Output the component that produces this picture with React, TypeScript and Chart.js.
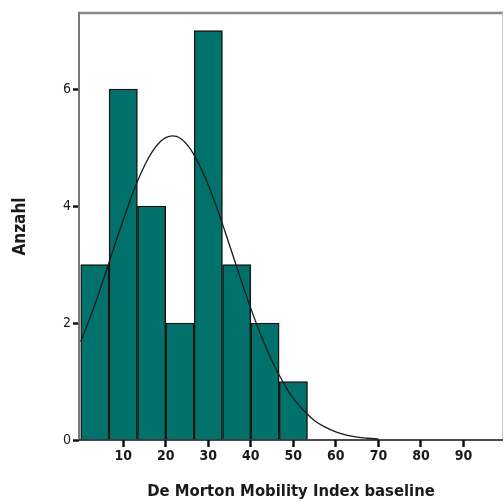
import React, { useEffect, useRef } from "react";
import { Chart, registerables } from "chart.js";

Chart.register(...registerables);

// Histogram bins (width 20/3) – centers and counts
const binCenters = [3.33, 10, 16.67, 23.33, 30, 36.67, 43.33, 50];
const binCounts = [3, 6, 4, 2, 7, 3, 2, 1];

// Normal curve
const curveX = [0, 2.5, 5, 7.5, 10, 12.5, 15, 17.5, 20, 22.5, 25, 27.5, 30, 32.5, 35, 37.5, 40, 42.5, 45, 47.5, 50, 52.5, 55, 57.5, 60, 62.5, 65, 67.5, 70];
const curveY = [1.68, 2.15, 2.67, 3.22, 3.76, 4.27, 4.69, 5.0, 5.17, 5.19, 5.05, 4.76, 4.36, 3.87, 3.33, 2.78, 2.25, 1.77, 1.35, 1.0, 0.71, 0.5, 0.33, 0.22, 0.14, 0.085, 0.05, 0.03, 0.017];

const xTickLabels = [10, 20, 30, 40, 50, 60, 70, 80, 90];
const yTickLabels = [0, 2, 4, 6];

const xTitle = "De Morton Mobility Index baseline";
const yTitle = "Anzahl";

const FONT = "'Liberation Sans Narrow', 'DejaVu Sans Condensed', 'Noto Sans', sans-serif";

export default function App() {
  const ref = useRef<HTMLCanvasElement | null>(null);

  useEffect(() => {
    document.body.style.margin = "0";
    const canvas = ref.current;
    if (!canvas) return;

    const framePlugin = {
      id: "frame",
      afterDraw(chart: any) {
        const { ctx, chartArea } = chart;
        const { left, right, top, bottom } = chartArea;
        ctx.save();
        ctx.strokeStyle = "#8a8a8a";
        ctx.lineWidth = 2.5;
        ctx.beginPath();
        ctx.moveTo(left - 1, top);
        ctx.lineTo(right, top);
        ctx.stroke();
        ctx.strokeStyle = "#c8c8c8";
        ctx.lineWidth = 1;
        ctx.beginPath();
        ctx.moveTo(right - 0.5, top);
        ctx.lineTo(right - 0.5, bottom);
        ctx.stroke();
        ctx.strokeStyle = "#777777";
        ctx.lineWidth = 2;
        ctx.beginPath();
        ctx.moveTo(left, top - 1);
        ctx.lineTo(left, bottom);
        ctx.stroke();
        ctx.strokeStyle = "#111111";
        ctx.lineWidth = 1.5;
        ctx.beginPath();
        ctx.moveTo(left, bottom);
        ctx.lineTo(right, bottom);
        ctx.stroke();
        ctx.restore();
      },
    };

    const chart = new Chart(canvas, {
      type: "bar",
      data: {
        datasets: [
          {
            type: "line",
            data: curveX.map((x, i) => ({ x, y: curveY[i] })),
            borderColor: "#1a1a1a",
            borderWidth: 1.3,
            pointRadius: 0,
            tension: 0.4,
            fill: false,
            order: 0,
          } as any,
          {
            type: "bar",
            data: binCenters.map((x, i) => ({ x, y: binCounts[i] })),
            backgroundColor: "#00716b",
            borderColor: "#151515",
            borderWidth: 1.5,
            barPercentage: 1,
            categoryPercentage: 1,
            order: 1,
          } as any,
        ],
      },
      options: {
        animation: false,
        responsive: false,
        layout: { padding: { left: 0, right: 1, top: 13, bottom: 0 } },
        plugins: { legend: { display: false }, tooltip: { enabled: false } },
        scales: {
          x: {
            type: "linear",
            min: -0.4,
            max: 99.3,
            offset: false,
            afterBuildTicks: (scale: any) => {
              scale.ticks = xTickLabels.map((v) => ({ value: v }));
            },
            afterFit: (scale: any) => {
              scale.height = 63;
            },
            border: { display: false },
            grid: {
              offset: false,
              drawOnChartArea: false,
              drawTicks: true,
              tickLength: 7,
              tickWidth: 2.5,
              tickColor: "#111111",
            },
            ticks: {
              autoSkip: false,
              maxRotation: 0,
              padding: 1,
              color: "#1a1a1a",
              font: { family: FONT, size: 14, weight: "bold" },
              callback: (v: any) => String(v),
            },
            title: {
              display: true,
              text: xTitle,
              color: "#1a1a1a",
              font: { family: FONT, size: 16.5, weight: "bold" },
              padding: { top: 0, bottom: 1 },
            },
          },
          y: {
            min: 0,
            max: 7.3,
            afterBuildTicks: (scale: any) => {
              scale.ticks = yTickLabels.map((v) => ({ value: v }));
            },
            afterFit: (scale: any) => {
              scale.width = 79;
            },
            border: { display: false },
            grid: {
              drawOnChartArea: false,
              drawTicks: true,
              tickLength: 6,
              tickWidth: 2.5,
              tickColor: "#111111",
            },
            ticks: {
              padding: 2,
              color: "#1a1a1a",
              font: { family: FONT, size: 14 },
            },
            title: {
              display: true,
              text: yTitle,
              color: "#1a1a1a",
              font: { family: FONT, size: 17, weight: "bold" },
              padding: { top: 10, bottom: 0 },
            },
          },
        },
      },
      plugins: [framePlugin],
    });

    return () => chart.destroy();
  }, []);

  return (
    <div style={{ position: "absolute", left: 0, top: 0, width: 504, height: 503, background: "#fff" }}>
      <canvas ref={ref} width={504} height={503} style={{ display: "block" }} />
    </div>
  );
}
